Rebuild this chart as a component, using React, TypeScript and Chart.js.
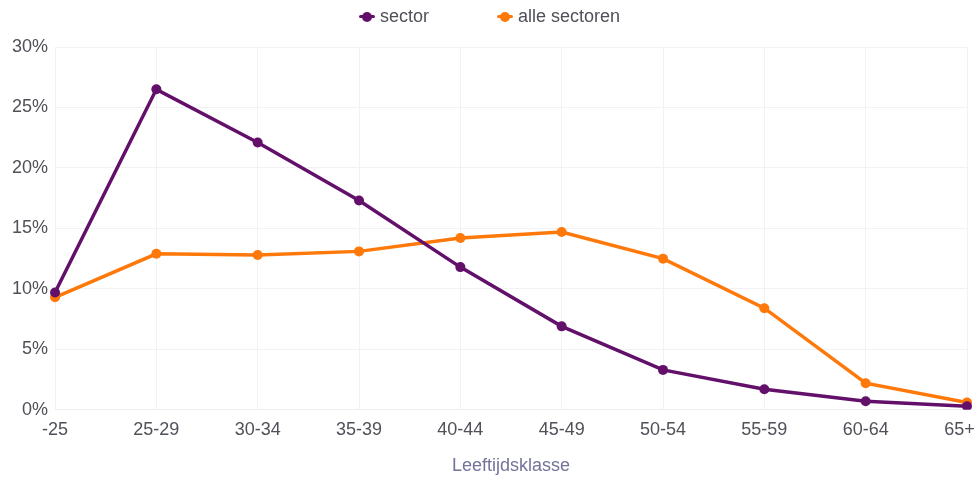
import React, { useEffect, useRef } from "react";
import { Chart, registerables } from "chart.js";

Chart.register(...registerables);

const categories = ["-25", "25-29", "30-34", "35-39", "40-44", "45-49", "50-54", "55-59", "60-64", "65+"];
const sectorValues = [9.7, 26.5, 22.1, 17.3, 11.8, 6.9, 3.3, 1.7, 0.7, 0.3];
const alleValues = [9.3, 12.9, 12.8, 13.1, 14.2, 14.7, 12.5, 8.4, 2.2, 0.6];
const seriesNames = ["sector", "alle sectoren"];
const seriesColors = ["#63106b", "#ff780a"];
const xTitle = "Leeftijdsklasse";

const FONT = "'Liberation Sans', Arial, Helvetica, sans-serif";

function LegendItem({ label, color }: { label: string; color: string }) {
  return (
    <div style={{ display: "flex", alignItems: "center" }}>
      <span style={{ position: "relative", width: 16, height: 10, marginRight: 5, display: "inline-block" }}>
        <span style={{ position: "absolute", left: 0, top: 3.5, width: 16, height: 3, background: color, borderRadius: 1.5 }} />
        <span style={{ position: "absolute", left: 3, top: 0, width: 10, height: 10, background: color, borderRadius: 5 }} />
      </span>
      <span style={{ color: "#505058", fontSize: 18, fontFamily: FONT }}>{label}</span>
    </div>
  );
}

export default function App() {
  const ref = useRef<HTMLCanvasElement | null>(null);

  useEffect(() => {
    document.body.style.margin = "0";
    if (!ref.current) return;
    const chart = new Chart(ref.current, {
      type: "line",
      data: {
        labels: categories,
        datasets: [
          {
            label: seriesNames[0],
            data: sectorValues,
            borderColor: seriesColors[0],
            backgroundColor: seriesColors[0],
            borderWidth: 3.5,
            pointRadius: 5,
            pointBackgroundColor: seriesColors[0],
            pointBorderWidth: 0,
            tension: 0,
          },
          {
            label: seriesNames[1],
            data: alleValues,
            borderColor: seriesColors[1],
            backgroundColor: seriesColors[1],
            borderWidth: 3.5,
            pointRadius: 5,
            pointBackgroundColor: seriesColors[1],
            pointBorderWidth: 0,
            tension: 0,
          },
        ],
      },
      options: {
        animation: false,
        responsive: false,
        devicePixelRatio: 1,
        layout: { padding: { top: 47, left: 5, right: 0, bottom: 0 } },
        plugins: {
          legend: { display: false },
          tooltip: { enabled: false },
        },
        scales: {
          x: {
            offset: false,
            grid: { color: "#f2f2f4", drawTicks: false },
            border: { color: "#eeeeef" },
            afterFit: (scale: any) => {
              scale.paddingRight = 12;
            },
            ticks: {
              color: "#505058",
              font: { family: FONT, size: 18 },
              padding: 9,
              maxRotation: 0,
              autoSkip: false,
              callback: (_v: any, i: number) =>
                i === categories.length - 1 ? categories[i] + "   " : categories[i],
            },
            title: {
              display: true,
              text: xTitle,
              color: "#74749a",
              font: { family: FONT, size: 18 },
              padding: { top: 6, bottom: 1 },
            },
          },
          y: {
            min: 0,
            max: 30,
            grid: { color: "#f2f2f4", drawTicks: false },
            border: { display: false },
            ticks: {
              stepSize: 5,
              color: "#505058",
              font: { family: FONT, size: 18 },
              padding: 7,
              callback: (v: any) => v + "%",
            },
          },
        },
      },
    });
    return () => chart.destroy();
  }, []);

  return (
    <div style={{ position: "relative", width: 979, height: 478 }}>
      <canvas ref={ref} width={979} height={478} style={{ display: "block" }} />
      <div
        style={{
          position: "absolute",
          top: 6,
          left: 0,
          right: 0,
          display: "flex",
          justifyContent: "center",
          gap: 68,
          paddingLeft: 0,
        }}
      >
        <LegendItem label={seriesNames[0]} color={seriesColors[0]} />
        <LegendItem label={seriesNames[1]} color={seriesColors[1]} />
      </div>
    </div>
  );
}
